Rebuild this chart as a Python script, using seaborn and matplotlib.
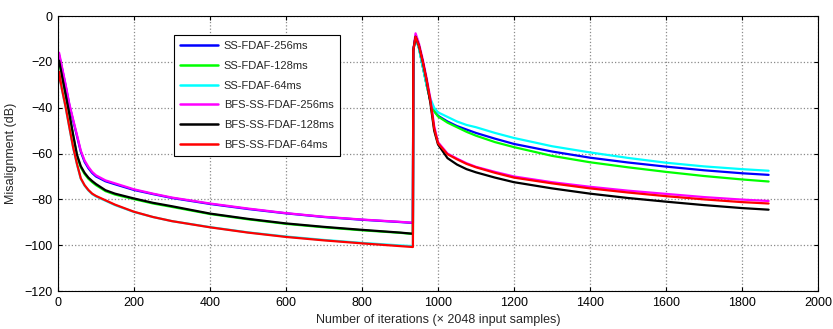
import numpy as np
import pandas as pd
import matplotlib
matplotlib.use("Agg")
import matplotlib.pyplot as plt
import seaborn as sns

# ---- data ----
iters = [0, 3, 10, 20, 30, 40, 50, 60, 70, 80, 90, 100, 125, 150, 200, 250, 300,
         400, 500, 600, 700, 800, 900, 934,
         935, 941, 950, 960, 970, 980, 990, 1000, 1025, 1050, 1075, 1100, 1150,
         1200, 1300, 1400, 1500, 1600, 1700, 1800, 1870]

ss_256 = [-20, -17, -22.3, -30.3, -38.9, -45.7, -52.4, -59.2, -63.6, -66.4, -68.5, -70.0,
          -72.1, -73.4, -75.9, -77.7, -79.4, -82.0, -84.2, -86.1, -87.7, -88.9, -89.9, -90.3,
          -15, -9, -14, -22, -30, -37, -41.5, -43.5, -46, -48, -49.5, -51, -53.5,
          -55.8, -59.1, -61.8, -63.9, -65.7, -67.3, -68.6, -69.3]
ss_128 = [-22.5, -20, -26, -34.5, -43.2, -52.3, -61.0, -66.0, -68.9, -71.0, -72.5, -73.8,
          -76.4, -77.9, -79.9, -81.8, -83.3, -86.4, -88.7, -90.7, -92.2, -93.5, -94.6, -95.1,
          -15, -9, -14, -22, -30, -37, -41.5, -43.8, -46.5, -48.5, -50.5, -52.2, -55,
          -57.2, -61, -63.8, -66, -68, -69.8, -71.3, -72.2]
ss_64 = [-30, -24.5, -31.7, -39.7, -48.7, -57.5, -64.7, -71.0, -74.0, -76.1, -77.7, -78.7,
         -80.6, -82.5, -85.5, -87.7, -89.5, -92.1, -94.4, -96.2, -97.7, -99.0, -100.1, -100.4,
         -15, -8.5, -14, -22, -30, -36, -40, -42, -44, -46, -47.5, -48.5, -51,
         -53.2, -56.8, -59.5, -61.9, -64, -65.6, -66.8, -67.5]
bfs_256 = [-19, -16, -21.8, -29.8, -38.4, -45.2, -51.9, -58.7, -63, -65.8, -68, -69.5,
           -71.7, -73.0, -75.6, -77.5, -79.2, -81.8, -84.0, -86.0, -87.6, -88.8, -89.8, -90.2,
           -15, -7.5, -12, -19, -27, -36, -48, -55, -60, -62.2, -64.2, -65.8, -68,
           -70, -72.5, -74.5, -76.2, -77.6, -79, -80.1, -80.7]
bfs_128 = [-22, -19.5, -25.5, -34, -42.7, -51.8, -60.5, -65.5, -68.4, -70.5, -72, -73.3,
           -76, -77.5, -79.6, -81.5, -83, -86.2, -88.5, -90.5, -92, -93.3, -94.5, -95,
           -15, -9, -13, -20, -28, -38, -50, -56, -62, -64.8, -66.8, -68.2, -70.5,
           -72.5, -75.2, -77.5, -79.4, -81, -82.5, -83.8, -84.5]
bfs_64 = [-30, -24.3, -31.5, -39.5, -48.5, -57.3, -64.5, -70.8, -73.8, -75.9, -77.5, -78.5,
          -80.4, -82.3, -85.4, -87.7, -89.5, -92.2, -94.5, -96.4, -97.9, -99.2, -100.4, -100.8,
          -15, -9, -13, -20, -28, -37, -49, -55.5, -60.3, -62.5, -64.5, -66, -68.4,
          -70.5, -73, -75.2, -77, -78.6, -80, -81.2, -81.8]

labels = ["SS-FDAF-256ms", "SS-FDAF-128ms", "SS-FDAF-64ms",
          "BFS-SS-FDAF-256ms", "BFS-SS-FDAF-128ms", "BFS-SS-FDAF-64ms"]
series = [ss_256, ss_128, ss_64, bfs_256, bfs_128, bfs_64]
colors = ["#0000ff", "#00ff00", "#00ffff", "#ff00ff", "#000000", "#ff0000"]

x_ticks = list(range(0, 2001, 200))
y_ticks = list(range(-120, 1, 20))

df = pd.concat([pd.DataFrame({"iter": iters, "mis": s, "algo": lab})
                for lab, s in zip(labels, series)], ignore_index=True)

sns.set_style("white")
plt.rcParams["font.family"] = ["Liberation Sans", "DejaVu Sans"]

fig = plt.figure(figsize=(8.33, 3.29), dpi=100)
ax = fig.add_axes([0.0696, 0.1155, 0.9124, 0.8355])

sns.lineplot(data=df, x="iter", y="mis", hue="algo", hue_order=labels,
             palette=colors, estimator=None, sort=False, linewidth=1.6, ax=ax)

ax.set_xlim(0, 2000)
ax.set_ylim(-120, 0)
ax.set_xticks(x_ticks)
ax.set_yticks(y_ticks)
ax.tick_params(direction="in", labelsize=9, length=3, width=0.8, top=True, right=True,
               bottom=True, left=True, pad=4, colors="black")
ax.grid(True, linestyle=":", color="#8a8a8a", linewidth=0.9)
for sp in ax.spines.values():
    sp.set_visible(True)
    sp.set_color("black")
    sp.set_linewidth(0.8)

ax.set_xlabel("Number of iterations (\u00d7 2048 input samples)", fontsize=9, labelpad=4)
ax.set_ylabel("Misalignment (dB)", fontsize=9, labelpad=5)

leg = ax.legend(loc="upper left", bbox_to_anchor=(0.153, 0.931), borderaxespad=0,
                fontsize=8, handlelength=3.4, labelspacing=0.87, frameon=True,
                fancybox=False, borderpad=0.55, handletextpad=0.5)
leg.get_frame().set_edgecolor("black")
leg.get_frame().set_linewidth(0.8)
leg.get_frame().set_facecolor("white")
leg.get_frame().set_alpha(1)
for h in leg.get_lines():
    h.set_linewidth(1.8)

fig.savefig("out.png", dpi=100)
